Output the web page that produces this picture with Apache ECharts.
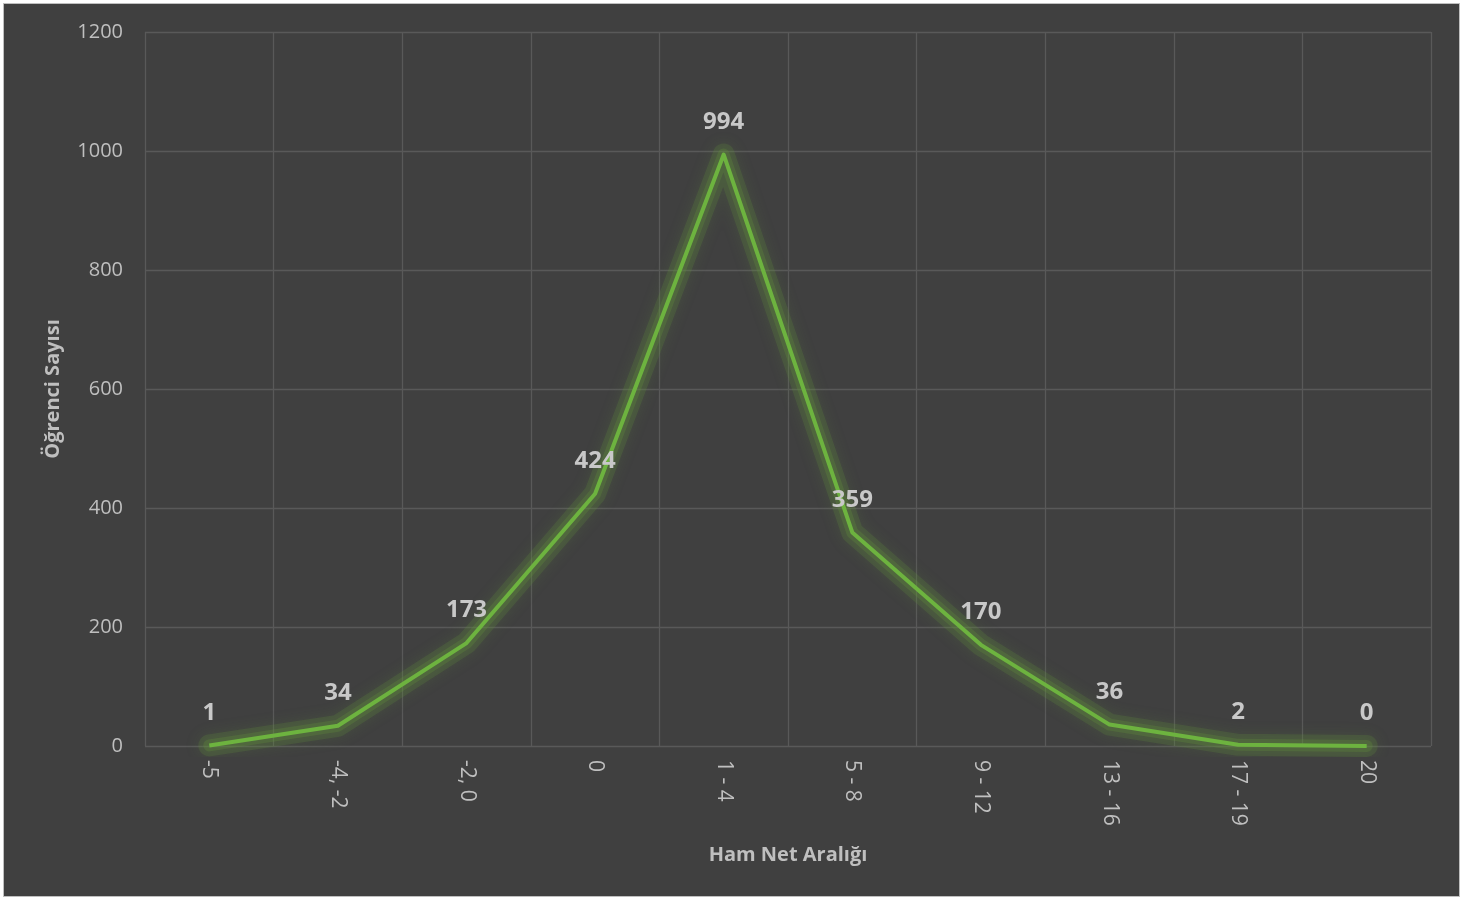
<!DOCTYPE html>
<html>
<head>
<meta charset="utf-8">
<script src="https://cdn.jsdelivr.net/npm/echarts@6/dist/echarts.min.js"></script>
<style>
html,body{margin:0;padding:0;background:#ffffff;}
#frame{position:absolute;left:3px;top:3px;width:1455px;height:892px;background:#404040;border:1px solid #bfbfbf;}
#chart{width:100%;height:100%;}
</style>
</head>
<body>
<div id="frame"><div id="chart"></div></div>
<script>
const categories = ["-5", "-4, -2", "-2, 0", "0", "1 - 4", "5 - 8", "9 - 12", "13 - 16", "17 - 19", "20"];
const counts = [1, 34, 173, 424, 994, 359, 170, 36, 2, 0];
const yTicks = { min: 0, max: 1200, interval: 200 };
const xName = "Ham Net Aralığı";
const yName = "Öğrenci Sayısı";

const font = "'Open Sans', 'Noto Sans', sans-serif";
const chart = echarts.init(document.getElementById('chart'), null, {renderer: 'canvas'});
chart.setOption({
  backgroundColor: '#404040',
  animation: false,
  grid: { left: 141, right: 28, top: 28, bottom: 150, containLabel: false },
  xAxis: {
    type: 'category',
    data: categories,
    boundaryGap: true,
    name: xName,
    nameLocation: 'middle',
    nameGap: 99,
    nameTextStyle: { color: '#bfbfbf', fontSize: 20, fontWeight: 'bold', fontFamily: font },
    axisLine: { show: false },
    axisTick: { show: false },
    axisLabel: { rotate: -90, color: '#bfbfbf', fontSize: 21, fontFamily: font, margin: 14 },
    splitLine: { show: true, interval: 0, lineStyle: { color: '#595959', width: 1.3 } }
  },
  yAxis: {
    type: 'value',
    min: yTicks.min, max: yTicks.max, interval: yTicks.interval,
    name: yName,
    nameLocation: 'middle',
    nameGap: 82,
    nameTextStyle: { color: '#bfbfbf', fontSize: 20, fontWeight: 'bold', fontFamily: font },
    axisLine: { show: false },
    axisTick: { show: false },
    axisLabel: { color: '#bfbfbf', fontSize: 20, fontFamily: font, margin: 22, formatter: function (v) { return String(v); } },
    splitLine: { show: true, lineStyle: { color: '#595959', width: 1.3 } }
  },
  series: [{
    type: 'line',
    data: counts,
    symbol: 'none',
    silent: true,
    z: 1,
    lineStyle: { color: 'rgba(95,140,60,0.22)', width: 22, cap: 'round', join: 'round', shadowColor: 'rgba(95,140,60,0.8)', shadowBlur: 14 }
  }, {
    type: 'line',
    data: counts,
    symbol: 'none',
    silent: true,
    z: 2,
    lineStyle: { color: 'rgba(95,140,60,0.3)', width: 12, cap: 'round', join: 'round' }
  }, {
    type: 'line',
    data: counts,
    symbol: 'circle',
    symbolSize: 1,
    showSymbol: true,
    z: 3,
    itemStyle: { color: 'rgba(0,0,0,0)' },
    lineStyle: { color: '#6db33f', width: 4, join: 'round' },
    label: {
      show: true, position: 'top', distance: 20,
      color: '#c8c8c8', fontSize: 24, fontWeight: 'bold', fontFamily: font
    }
  }]
});
</script>
</body>
</html>
